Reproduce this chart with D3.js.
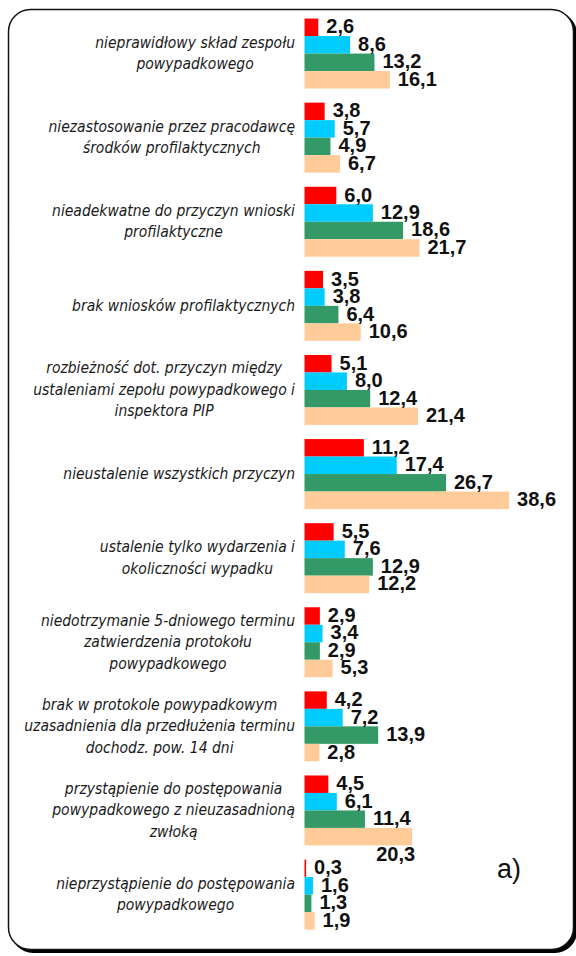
<!DOCTYPE html>
<html>
<head>
<meta charset="utf-8">
<script src="https://cdn.jsdelivr.net/npm/d3@7"></script>
<style>
    html, body { margin: 0; padding: 0; background: #fff; }
    svg { display: block; }
</style>
</head>
<body>
<div id="chart"></div>
<script>
// kategorie (etykiety wierszy, z podziałem na linie jak w oryginale)
const categories = [
    ["nieprawidłowy skład zespołu", "powypadkowego"],
    ["niezastosowanie przez pracodawcę", "środków profilaktycznych"],
    ["nieadekwatne do przyczyn wnioski", "profilaktyczne"],
    ["brak wniosków profilaktycznych"],
    ["rozbieżność dot. przyczyn między", "ustaleniami zepołu powypadkowego i", "inspektora PIP"],
    ["nieustalenie wszystkich przyczyn"],
    ["ustalenie tylko wydarzenia i", "okoliczności wypadku"],
    ["niedotrzymanie 5-dniowego terminu", "zatwierdzenia protokołu", "powypadkowego"],
    ["brak w protokole powypadkowym", "uzasadnienia dla przedłużenia terminu", "dochodz. pow. 14 dni"],
    ["przystąpienie do postępowania", "powypadkowego z nieuzasadnioną", "zwłoką"],
    ["nieprzystąpienie do postępowania", "powypadkowego"]
];

// wartości serii (%)
const series1 = [2.6, 3.8, 6.0, 3.5, 5.1, 11.2, 5.5, 2.9, 4.2, 4.5, 0.3];
const series2 = [8.6, 5.7, 12.9, 3.8, 8.0, 17.4, 7.6, 3.4, 7.2, 6.1, 1.6];
const series3 = [13.2, 4.9, 18.6, 6.4, 12.4, 26.7, 12.9, 2.9, 13.9, 11.4, 1.3];
const series4 = [16.1, 6.7, 21.7, 10.6, 21.4, 38.6, 12.2, 5.3, 2.8, 20.3, 1.9];

const seriesNames = ["s1", "s2", "s3", "s4"];
const seriesColors = ["#ff0000", "#00ccff", "#339966", "#ffcc99"];

// etykieta przesunięta pod słupek: [kategoria, seria]
const labelsBelow = [[9, 3]];

const width = 576, height = 956;
const fmt = v => d3.format(".1f")(v).replace(".", ",");

const svg = d3.select("#chart")
    .append("svg")
    .attr("width", width)
    .attr("height", height);

// ramka z cieniem
svg.append("rect")
    .attr("x", 11).attr("y", 12)
    .attr("width", 566).attr("height", 941)
    .attr("rx", 22)
    .attr("fill", "#000");
svg.append("rect")
    .attr("x", 8.5).attr("y", 9.5)
    .attr("width", 565).attr("height", 940)
    .attr("rx", 22)
    .attr("fill", "#fff")
    .attr("stroke", "#111")
    .attr("stroke-width", 1.5);

const allSeries = [series1, series2, series3, series4];
const rows = categories.map((lines, i) => ({
    i,
    lines,
    values: allSeries.map((s, k) => ({ key: seriesNames[k], k, value: s[i] }))
}));

const y0 = d3.scaleBand()
    .domain(d3.range(categories.length))
    .range([11.5, 936.6])
    .paddingInner(0.168)
    .paddingOuter(0.084);

const y1 = d3.scaleBand()
    .domain(seriesNames)
    .range([0, y0.bandwidth()]);

const x = d3.scaleLinear()
    .domain([0, 40])
    .range([304.5, 516.5]);

const color = d3.scaleOrdinal().domain(seriesNames).range(seriesColors);

const groups = svg.selectAll("g.row")
    .data(rows)
    .enter()
    .append("g")
    .attr("class", "row")
    .attr("transform", d => `translate(0,${y0(d.i)})`);

groups.selectAll("rect")
    .data(d => d.values)
    .enter()
    .append("rect")
    .attr("x", x(0))
    .attr("y", d => y1(d.key))
    .attr("width", d => x(d.value) - x(0))
    .attr("height", y1.bandwidth())
    .attr("fill", d => color(d.key));

// etykiety wartości
groups.selectAll("text.val")
    .data(d => d.values.map(v => ({ ...v, row: d.i })))
    .enter()
    .append("text")
    .attr("class", "val")
    .each(function (d) {
        const below = labelsBelow.some(([r, k]) => r === d.row && k === d.k);
        const t = d3.select(this);
        if (below) {
            t.attr("x", x(d.value) + 3)
                .attr("y", y1(d.key) + y1.bandwidth() + 16)
                .attr("text-anchor", "end");
        } else {
            t.attr("x", x(d.value) + 8)
                .attr("y", y1(d.key) + y1.bandwidth() / 2 + 6);
        }
    })
    .attr("font-family", "'Liberation Sans', Arial, sans-serif")
    .attr("font-weight", "bold")
    .attr("font-size", 20)
    .attr("fill", "#111")
    .text(d => fmt(d.value));

// etykiety kategorii: blok wyrównany do prawej, linie wyśrodkowane
const lineH = 21.5;
const labelRight = 295;
groups.each(function (d) {
    const g = d3.select(this);
    const txt = g.append("text")
        .attr("font-family", "'DejaVu Sans Condensed', 'DejaVu Sans', sans-serif")
        .attr("font-style", "italic")
        .attr("font-size", 15.5)
        .attr("fill", "#1a1a1a")
        .attr("text-anchor", "middle");
    const spans = d.lines.map((line, j) => txt.append("tspan")
        .attr("y", y0.bandwidth() / 2 + (j - (d.lines.length - 1) / 2) * lineH + 5)
        .text(line));
    const w = d3.max(spans, s => s.node().getComputedTextLength());
    spans.forEach(s => s.attr("x", labelRight - w / 2));
});

svg.append("text")
    .attr("x", 497)
    .attr("y", 878)
    .attr("font-family", "'Liberation Sans', Arial, sans-serif")
    .attr("font-size", 27)
    .attr("fill", "#111")
    .text("a)");
</script>
</body>
</html>
